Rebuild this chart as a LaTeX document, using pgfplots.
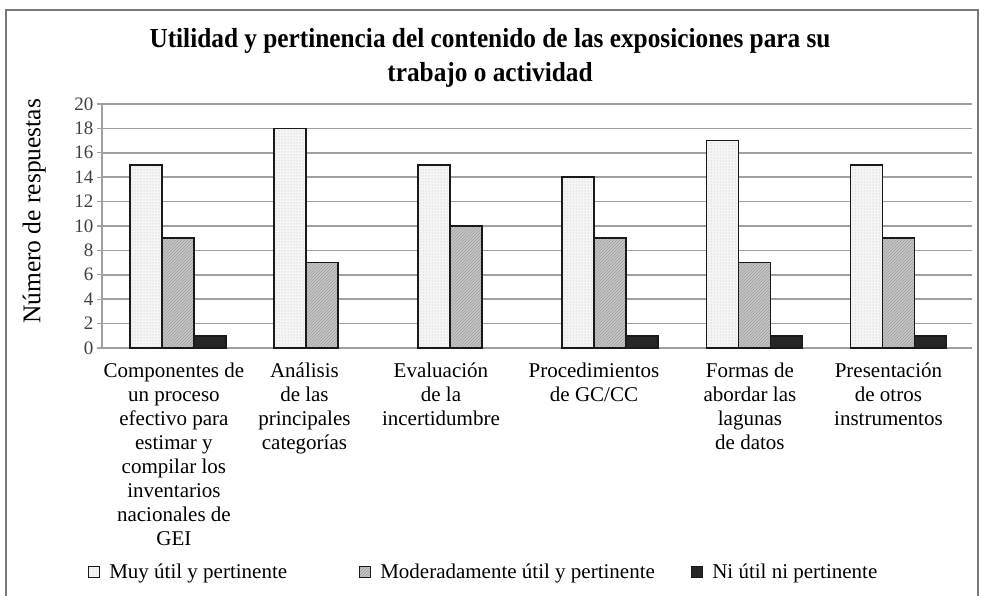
\documentclass[border=0pt]{standalone}
\usepackage{pgfplots}
\pgfplotsset{compat=1.18}
\usetikzlibrary{patterns}
\usepackage{fontspec}
\setmainfont{Liberation Serif}
\newfontfamily\titlefont[FakeStretch=0.92]{Liberation Serif}
\definecolor{gridgray}{RGB}{160,160,160}
\definecolor{framegray}{RGB}{120,120,120}
\begin{document}
\begin{tikzpicture}[x=1pt,y=1pt]
\path[use as bounding box] (-102,-248) rectangle (879,348);
\draw[framegray, line width=1.5pt] (-96,-260) -- (-96,338) -- (876,338) -- (876,-260);
\begin{axis}[
  at={(0,0)}, anchor=south west,
  scale only axis, width=870pt, height=244pt,
  xmin=-0.527, xmax=5.51, ymin=0, ymax=20,
  ybar=0pt, bar width=32pt,
  axis x line*=bottom, axis y line*=left,
  axis line style={gridgray, line width=1.5pt},
  ytick={0,2,...,20},
  ymajorgrids, grid style={gridgray, line width=1.5pt},
  y tick style={gridgray, line width=1.2pt}, major tick length=5pt, tick align=outside,
  x tick style={draw=none},
  xtick={-0.028,0.878,1.825,2.887,3.969,4.93},
  xticklabels={{Componentes de\\un proceso\\efectivo para\\estimar y\\compilar los\\inventarios\\nacionales de\\GEI},
    {Análisis\\de las\\principales\\categorías},
    {Evaluación\\de la\\incertidumbre},
    {Procedimientos\\de GC/CC},
    {Formas de\\abordar las\\lagunas\\de datos},
    {Presentación\\de otros\\instrumentos}},
  xticklabel style={align=center, font=\fontsize{21}{24}\selectfont, anchor=north, yshift=-6pt},
  yticklabel style={font=\fontsize{19}{21}\selectfont, text=black!75},
  /pgf/number format/assume math mode=true,
  ylabel={Número de respuestas},
  ylabel style={at={(axis description cs:-0.078,0.56)}, anchor=center, font=\fontsize{25.5}{28}\selectfont},
  title={Utilidad y pertinencia del contenido de las exposiciones para su\\trabajo o actividad},
  title style={at={(axis description cs:0.446,1.163)}, anchor=center, align=center, font=\titlefont\bfseries\fontsize{27.5}{34}\selectfont},
  legend columns=3,
  legend style={draw=none, fill=none, at={(axis description cs:-0.016,-0.918)}, anchor=west,
    font=\fontsize{21}{24}\selectfont, inner sep=0pt, nodes={inner sep=0pt},
    /tikz/every odd column/.append style={column sep=9pt}},
  legend image code/.code={\draw[#1, line width=1pt] (0pt,-5.5pt) rectangle (11pt,5.5pt);},
]
\addplot[draw=black!90, line width=1.7pt, fill=gray!8, postaction={pattern=dots, pattern color=gray!55}]
  coordinates {(0,15) (1,18) (2,15) (3,14) (4,17) (5,15)};
\addplot[draw=black!90, line width=1.7pt, fill=gray!45, postaction={pattern=north east lines, pattern color=gray!75}]
  coordinates {(0,9) (1,7) (2,10) (3,9) (4,7) (5,9)};
\addplot[draw=black!90, line width=1.7pt, fill=black!85]
  coordinates {(0,1) (3,1) (4,1) (5,1)};
\legend{\makebox[250pt][l]{Muy útil y pertinente}, \makebox[311pt][l]{Moderadamente útil y pertinente}, Ni útil ni pertinente}
\end{axis}
\end{tikzpicture}
\end{document}
